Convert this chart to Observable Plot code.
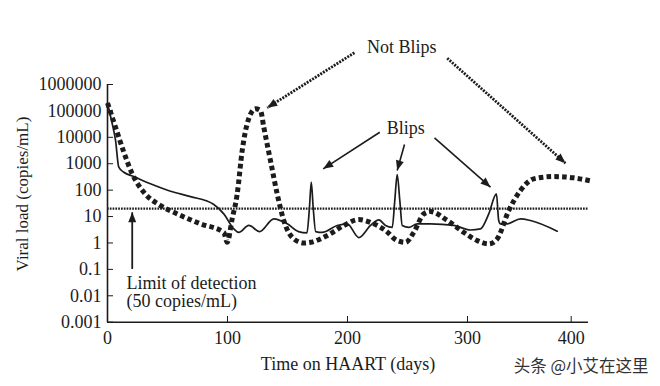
<!DOCTYPE html>
<html><head><meta charset="utf-8">
<script src="https://cdn.jsdelivr.net/npm/d3@7"></script>
<script src="https://cdn.jsdelivr.net/npm/@observablehq/plot@0.6"></script>
<style>body{margin:0;background:#fff}svg{display:block}</style>
</head><body><div id="chart"></div>
<script>
// ---- data ----
const solidDays = [0, 3.5, 6.7, 9.4, 13.6, 21.9, 35.8, 52.5, 69.2, 88.6, 96.9, 105.3, 109.4, 117.8, 126.7, 138.6, 149.8, 159.2, 166.2, 168.3, 169.8, 171.4, 173.5, 178.9, 191.4, 199.8, 209.4, 219.2, 226.1, 231.7, 237.3, 239.4, 241.4, 243.6, 245.6, 251.1, 258.1, 269.2, 288.6, 302.9, 312.5, 320.5, 327.9, 330.1, 331.8, 338.3, 351.1, 360.8, 386.5];
const solidLoad = [200000, 40000, 7600, 740, 475, 327, 174, 91, 57, 28.5, 12.6, 3.4, 2.5, 4.6, 2.7, 8.2, 5.3, 2.7, 2.4, 22, 200, 22, 2.7, 2.5, 4.6, 5.3, 1.6, 4.6, 7.5, 4.6, 3.9, 40, 390, 40, 4.6, 3.9, 5.3, 5.3, 4.6, 3.1, 3.4, 12.6, 72, 7.1, 5.3, 5.3, 8.2, 7.1, 2.8];
const dottedDays = [0, 6.7, 13.6, 20.6, 30.3, 44.2, 58.1, 77.5, 96.9, 99.75, 103.9, 108.1, 112.25, 116.4, 123.3, 127.5, 130.25, 135.8, 141.4, 146.9, 155.25, 163.6, 169.2, 183.1, 197, 209.4, 221.9, 231.7, 241.4, 248.3, 255.25, 263.6, 269.2, 283.1, 297, 309.4, 320.5, 328.6, 339.8, 351.1, 363.9, 383.2, 402.5, 420.2];
const dottedLoad = [200000, 24000, 2740, 415, 83, 26, 12.6, 5.3, 2.5, 1.06, 8.2, 72, 3160, 32500, 120000, 103000, 24000, 1320, 72, 7.1, 1.43, 1.0, 1.06, 1.9, 4.6, 7.7, 5.3, 2.95, 1.23, 1.06, 2.5, 12.6, 15.5, 7.1, 2.5, 1.23, 0.92, 1.43, 16.9, 97, 268, 327, 292, 217];
const detectionLimit = 20;
const xTicks = [0, 100, 200, 300, 400];
const yTicks = [0.001, 0.01, 0.1, 1, 10, 100, 1000, 10000, 100000, 1000000];
const xLabel = "Time on HAART (days)";
const yLabel = "Viral load (copies/mL)";
const watermark = "头条 @小艾在这里";
// annotations (data coordinates: day, copies/mL)
const notBlipArrows = [
  {x1: 205.8, y1: 1.6e7, x2: 133.1, y2: 131000},
  {x1: 283.1, y1: 9.9e6, x2: 394.5, y2: 1045}
];
const blipArrows = [
  {x1: 226.9, y1: 15600, x2: 179.75, y2: 641},
  {x1: 247.5, y1: 5340, x2: 241.4, y2: 553},
  {x1: 272.5, y1: 9570, x2: 322.2, y2: 129}
];
const limitArrow = [{x1: 20.6, y1: 0.104, x2: 20.6, y2: 14.5}];
const centerLabels = [
  {x: 245.3, y: 2.63e7, text: "Not Blips"},
  {x: 248.6, y: 22500, text: "Blips"}
];
const leftLabels = [
  {x: 15.8, y: 0.0303, text: "Limit of detection"},
  {x: 15.8, y: 0.0062, text: "(50 copies/mL)"}
];

const solid = solidDays.map((d, i) => ({day: d, load: solidLoad[i]}));
const dotted = dottedDays.map((d, i) => ({day: d, load: dottedLoad[i]}));

const ink = "#1c1c1c";
function headMarker(color) {
  const m = d3.create("svg:marker")
    .attr("viewBox", "-12 -6 13 12")
    .attr("markerUnits", "userSpaceOnUse")
    .attr("markerWidth", 13).attr("markerHeight", 12)
    .attr("refX", 0).attr("refY", 0)
    .attr("orient", "auto");
  m.append("path").attr("d", "M-10,-4L0,0L-10,4Z").attr("fill", color).attr("stroke", "none");
  return m.node();
}

const chart = Plot.plot({
  width: 660, height: 386,
  marginLeft: 107, marginRight: 72, marginTop: 84, marginBottom: 64,
  style: {fontFamily: "'Liberation Serif', 'Times New Roman', serif", fontSize: "18px", color: ink, background: "#fff", overflow: "visible"},
  x: {type: "linear", domain: [0, 300, 416.7], range: [107, 467, 588]},
  y: {type: "log", domain: [0.001, 1000000], range: [321.7, 84]},
  marks: [
    Plot.ruleX([0], {stroke: ink, strokeWidth: 1.6}),
    Plot.ruleY([0.001], {stroke: ink, strokeWidth: 1.6}),
    Plot.axisX({ticks: xTicks, tickSize: -6, tickPadding: 14.5, tickFormat: d => String(d), fontSize: 18, label: null, stroke: ink}),
    Plot.axisY({ticks: yTicks, tickSize: -6, tickPadding: 12, tickFormat: d => String(d), fontSize: 18, label: null, stroke: ink}),
    Plot.ruleY([detectionLimit], {stroke: ink, strokeWidth: 2.3, strokeDasharray: "1.7,1.1"}),
    Plot.line(solid, {x: "day", y: "load", curve: "monotone-x", stroke: ink, strokeWidth: 1.7}),
    Plot.line(dotted, {x: "day", y: "load", curve: "monotone-x", stroke: ink, strokeWidth: 5, strokeLinecap: "butt", strokeLinejoin: "miter", strokeDasharray: "4.6,3.2"}),
    Plot.link(notBlipArrows, {x1: "x1", y1: "y1", x2: "x2", y2: "y2", stroke: ink, strokeWidth: 2.8, strokeLinecap: "butt", strokeDasharray: "2,1.2", markerEnd: headMarker}),
    Plot.link(blipArrows, {x1: "x1", y1: "y1", x2: "x2", y2: "y2", stroke: ink, strokeWidth: 1.6, markerEnd: headMarker}),
    Plot.link(limitArrow, {x1: "x1", y1: "y1", x2: "x2", y2: "y2", stroke: ink, strokeWidth: 1.8, markerEnd: headMarker}),
    Plot.text(centerLabels, {x: "x", y: "y", text: "text", fontSize: 18, fill: ink}),
    Plot.text(leftLabels, {x: "x", y: "y", text: "text", textAnchor: "start", fontSize: 18, fill: ink}),
    Plot.text([xLabel], {frameAnchor: "bottom", textAnchor: "middle", dy: 47, fontSize: 18, fill: ink}),
    Plot.text([yLabel], {frameAnchor: "left", textAnchor: "middle", dx: -85, dy: -9.5, rotate: -90, fontSize: 17, fill: ink}),
    Plot.text([watermark], {frameAnchor: "bottom-right", dx: 60, dy: 49, textAnchor: "end", fontFamily: "'Noto Sans CJK SC', sans-serif", fontSize: 16.5, fill: "#333"})
  ]
});
document.getElementById("chart").appendChild(chart);
</script>
</body></html>
